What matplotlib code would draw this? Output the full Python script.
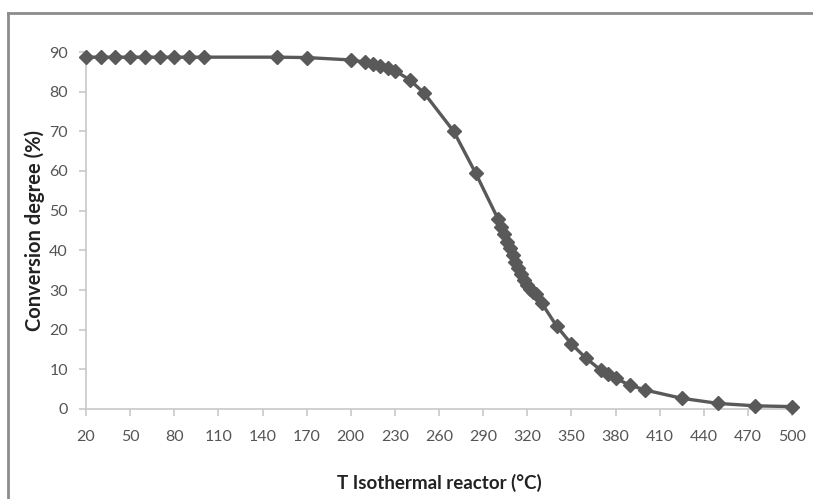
import matplotlib
matplotlib.use("Agg")
import matplotlib.pyplot as plt
from matplotlib.lines import Line2D

temperature = [20, 30, 40, 50, 60, 70, 80, 90, 100, 150, 170, 200, 210, 215, 220, 225, 230,
               240, 250, 270, 285, 300, 302, 304, 306, 308, 310, 312, 314, 316, 318, 320,
               322, 324, 326, 330, 340, 350, 360, 370, 375, 380, 390, 400, 425, 450, 475, 500]
conversion = [88.7, 88.7, 88.7, 88.7, 88.7, 88.7, 88.7, 88.7, 88.7, 88.7, 88.6, 88.0, 87.4, 87.0,
              86.5, 85.9, 85.3, 83.0, 79.6, 70.0, 59.4, 48.0, 45.8, 44.0, 42.2, 40.5, 38.8,
              37.1, 35.5, 34.0, 32.5, 31.2, 30.2, 29.5, 29.0, 26.6, 20.9, 16.4, 12.8, 9.8,
              8.8, 7.7, 6.0, 4.8, 2.7, 1.4, 0.8, 0.6]
x_ticks = list(range(20, 501, 30))
y_ticks = list(range(0, 91, 10))

fig = plt.figure(figsize=(8.13, 4.99), dpi=100)
W, H = 813, 499

# outer chart frame (cropped: only left and top visible)
fig.add_artist(Line2D([8 / W, 8 / W], [0, 1 - 12.5 / H], transform=fig.transFigure,
                      color="#8c8c8c", lw=2))
fig.add_artist(Line2D([8 / W, 1], [1 - 12.5 / H, 1 - 12.5 / H], transform=fig.transFigure,
                      color="#8c8c8c", lw=2))

ax = fig.add_axes([86 / W, 1 - 409 / H, (792 - 86) / W, (409 - 52) / H])
ax.plot(temperature, conversion, color="#595959", lw=2.4, marker="D", markersize=7.5,
        markeredgecolor="#595959", markerfacecolor="#595959", clip_on=False, zorder=3)

ax.set_xlim(20, 500)
ax.set_ylim(0, 90)
ax.set_xticks(x_ticks)
ax.set_yticks(y_ticks)

for s in ["top", "right"]:
    ax.spines[s].set_visible(False)
for s in ["left", "bottom"]:
    ax.spines[s].set_color("#c8c8c8")
    ax.spines[s].set_linewidth(1.2)

ax.tick_params(axis="both", colors="#c8c8c8", labelcolor="#555555", labelsize=11.5,
               length=5, width=1.2)
ax.tick_params(axis="y", pad=8)
ax.tick_params(axis="x", pad=10)
for lab in ax.get_xticklabels() + ax.get_yticklabels():
    lab.set_fontfamily("Lato")

ax.set_xlabel("T Isothermal reactor (°C)", fontsize=13.5, fontweight="bold",
              color="#222222", fontfamily="Lato", labelpad=22)
ax.set_ylabel("Conversion degree (%)", fontsize=14.5, fontweight="bold",
              color="#222222", fontfamily="Lato", labelpad=3)

fig.savefig("out.png", dpi=100)
